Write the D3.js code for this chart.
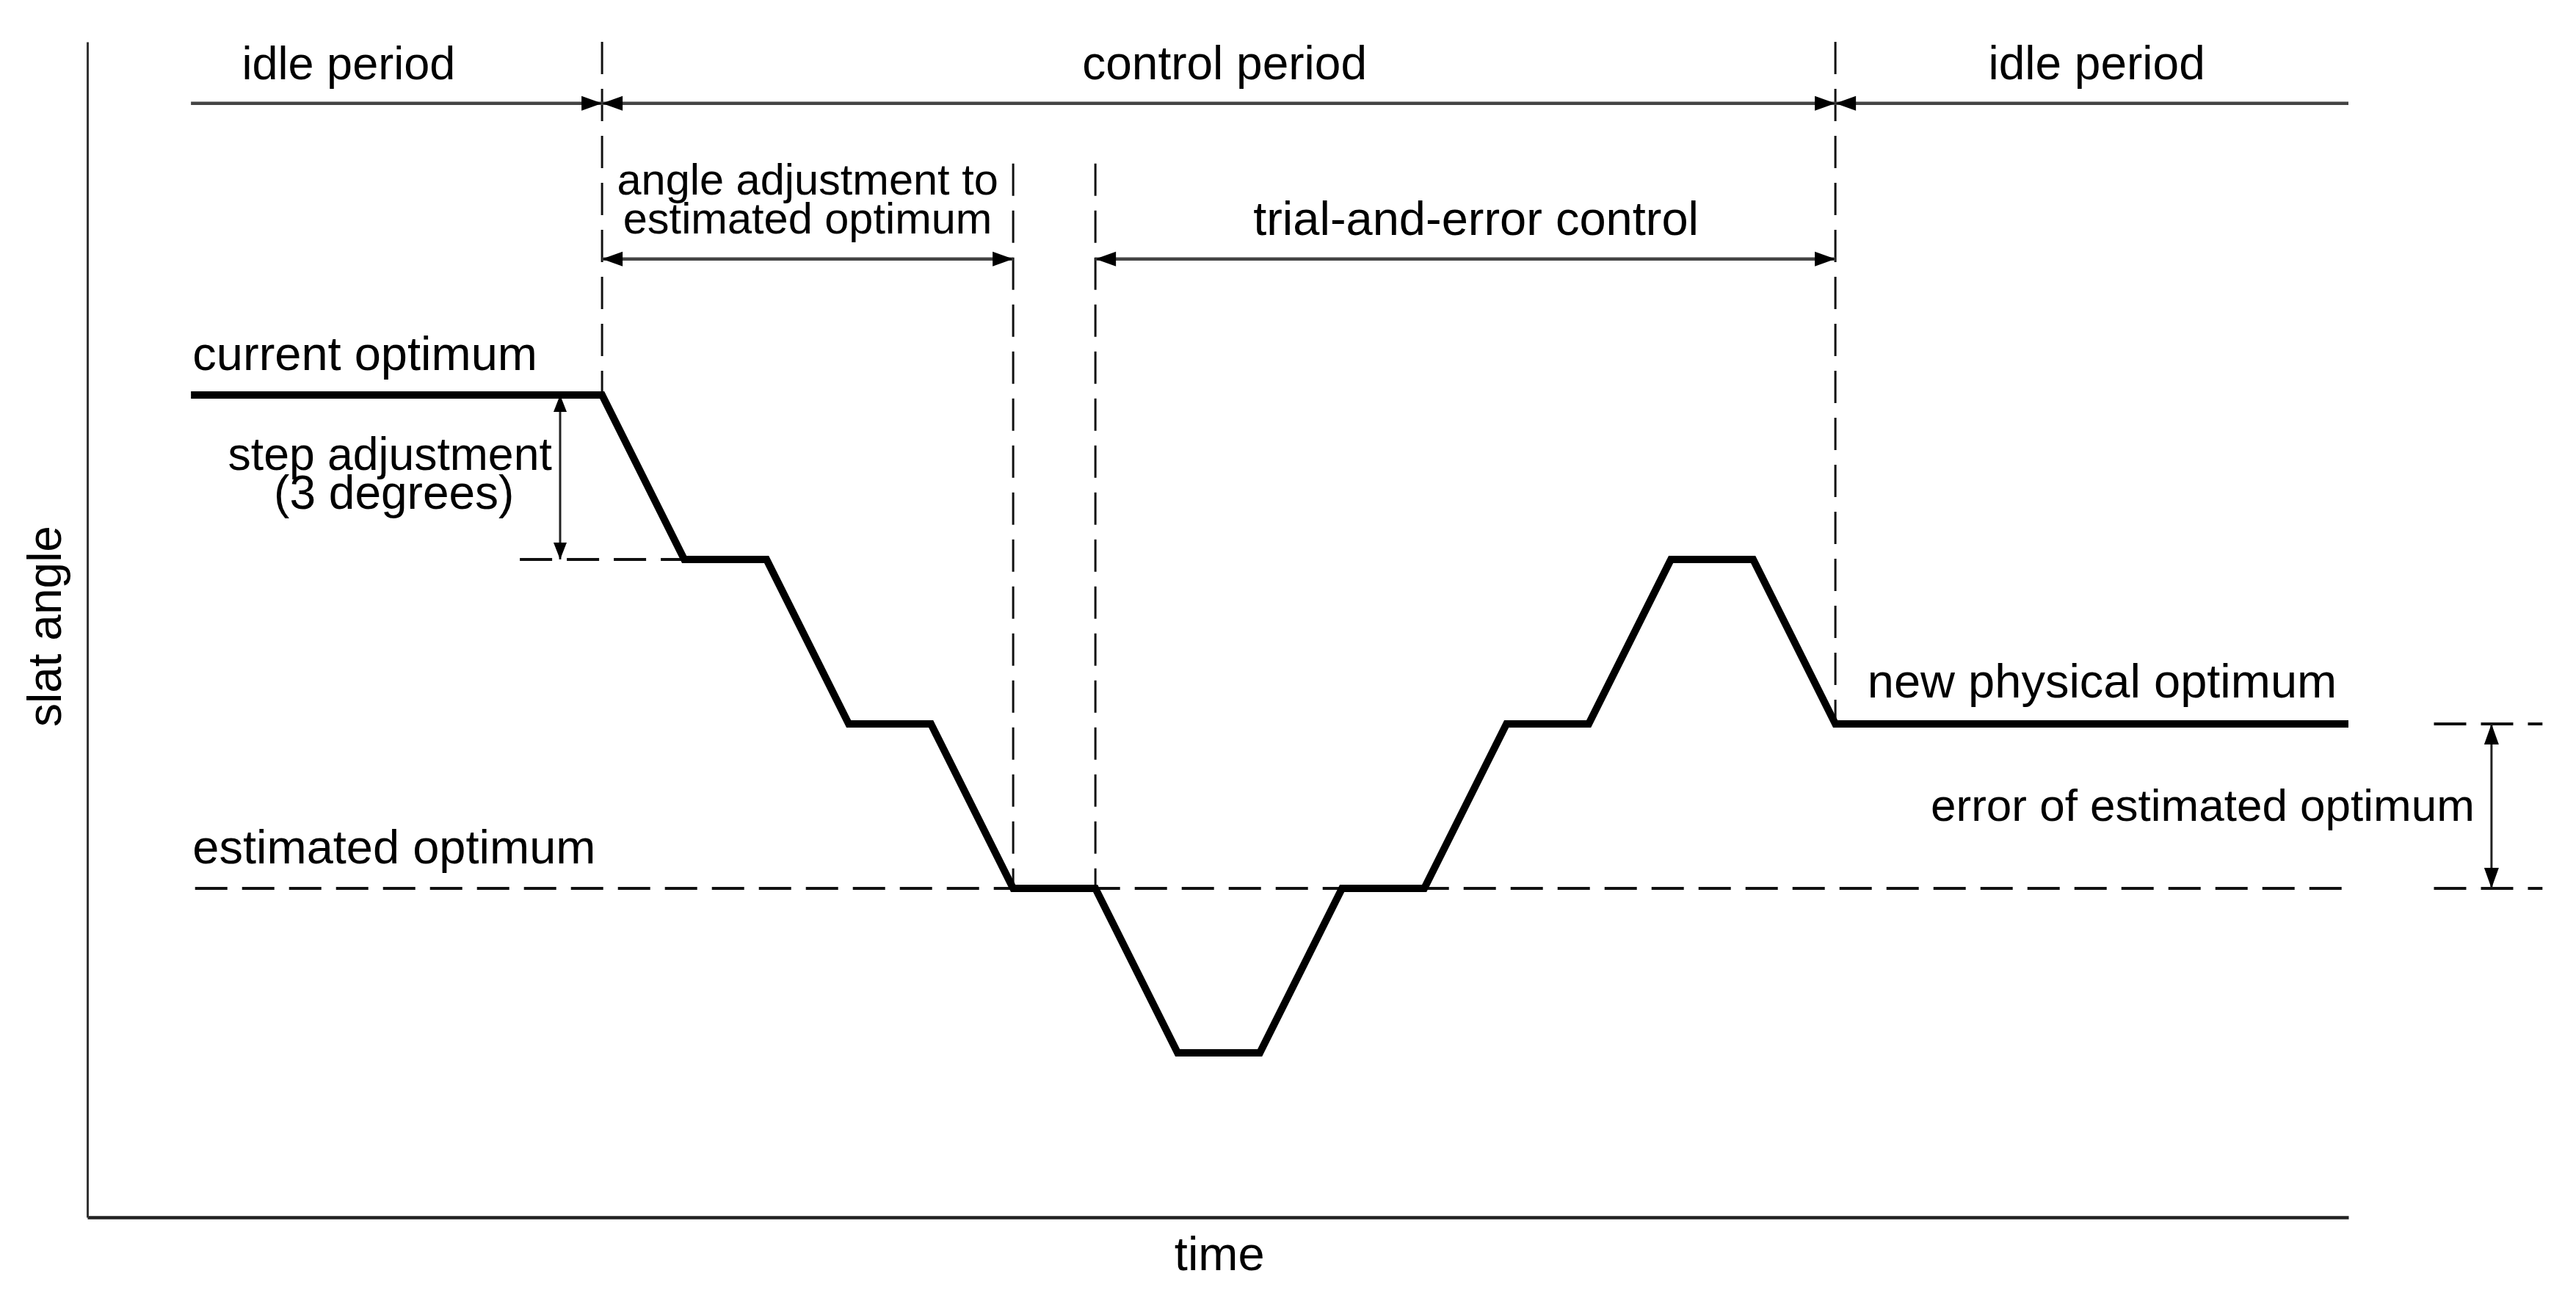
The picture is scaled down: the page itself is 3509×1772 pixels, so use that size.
<!DOCTYPE html>
<html>
<head>
<meta charset="utf-8">
<script src="https://cdn.jsdelivr.net/npm/d3@7"></script>
<style>
  html, body { margin: 0; padding: 0; background: #fff; }
  svg { display: block; }
  text { font-family: "Liberation Sans", Arial, Helvetica, sans-serif; fill: #000; }
</style>
</head>
<body>
<script>
// ---- data (time in control steps, slat angle in degrees relative to estimated optimum) ----
const timeSteps = [-5, 0, 1, 2, 3, 4, 5, 6, 7, 8, 9, 10, 11, 12, 13, 14, 15, 21.24];
const slatAngle = [9, 9, 6, 6, 3, 3, 0, 0, -3, -3, 0, 0, 3, 3, 6, 6, 3, 3];
const currentOptimum = 9;
const estimatedOptimum = 0;
const newOptimum = 3;
const stepSize = 3;
const periodBounds = [-5, 0, 15, 21.24];          // idle | control | idle
const phaseBounds = [[0, 5], [6, 15]];            // adjustment, trial-and-error
const periodNames = ["idle period", "control period", "idle period"];
const axisTitles = { x: "time", y: "slat angle" };

const W = 3509, H = 1772;
const x = d3.scaleLinear().domain([-6.26, 21.24]).range([119, 3199]);
const y = d3.scaleLinear().domain([-6, 15.44]).range([1658, 57]);

const svg = d3.select("body").append("svg").attr("width", W).attr("height", H);

const INK = "#111";
const dash = "44,20";

// ---- axes ----
const gx = svg.append("g").attr("transform", `translate(0,${y(-6)})`)
  .call(d3.axisBottom(x).tickValues([]).tickSizeOuter(0));
gx.select(".domain").attr("stroke", "#222").attr("stroke-width", 4.5);
const gy = svg.append("g").attr("transform", `translate(${x(-6.26)},0)`)
  .call(d3.axisLeft(y).tickValues([]).tickSizeOuter(0));
gy.select(".domain").attr("stroke", "#333").attr("stroke-width", 3);

// ---- helpers ----
function seg(x1, y1, x2, y2, opts = {}) {
  return svg.append("line")
    .attr("x1", x1).attr("y1", y1).attr("x2", x2).attr("y2", y2)
    .attr("stroke", opts.color || INK)
    .attr("stroke-width", opts.width || 3.5)
    .attr("stroke-dasharray", opts.dash || null);
}
function head(tx, ty, dx, dy, len = 28, hw = 10) {
  const bx = tx - dx * len, by = ty - dy * len;
  const px = -dy, py = dx;
  svg.append("path")
    .attr("d", `M${tx},${ty}L${bx + px * hw},${by + py * hw}L${bx - px * hw},${by - py * hw}Z`)
    .attr("fill", "#000");
}
function hArrow(t1, t2, yy, startHead, endHead) {
  const a = x(t1), b = x(t2);
  seg(a, yy, b, yy, { color: "#444", width: 4.5 });
  if (startHead) head(a, yy, -1, 0);
  if (endHead) head(b, yy, 1, 0);
}
function vArrow(t, d1, d2, len, hw) {
  const xx = x(t), a = y(d1), b = y(d2);
  seg(xx, a, xx, b, { color: "#222", width: 3 });
  head(xx, a, 0, -1, len, hw);
  head(xx, b, 0, 1, len, hw);
}

// ---- dashed guide lines ----
// period / phase boundaries
seg(x(periodBounds[1]), y.range()[1], x(periodBounds[1]), y(currentOptimum), { dash, width: 3 });
seg(x(periodBounds[2]), y.range()[1], x(periodBounds[2]), y(newOptimum), { dash, width: 3 });
phaseBounds.forEach((p, i) => {
  const t = i === 0 ? p[1] : p[0];
  seg(x(t), y(13.22), x(t), y(estimatedOptimum), { dash, width: 3 });
});
// estimated optimum
seg(x(-4.95), y(estimatedOptimum), x(21.24), y(estimatedOptimum), { dash, width: 4 });
// step adjustment guide
seg(x(-1), y(currentOptimum - stepSize), x(1), y(currentOptimum - stepSize), { dash, width: 4 });
// error guides at right
seg(x(22.28), y(newOptimum), x(23.6), y(newOptimum), { dash, width: 4 });
seg(x(22.28), y(estimatedOptimum), x(23.6), y(estimatedOptimum), { dash, width: 4 });

// ---- period arrows ----
const rowTop = y(14.32), rowMid = y(11.48);
hArrow(periodBounds[0], periodBounds[1], rowTop, false, true);
hArrow(periodBounds[1], periodBounds[2], rowTop, true, true);
hArrow(periodBounds[2], periodBounds[3], rowTop, true, false);
hArrow(phaseBounds[0][0], phaseBounds[0][1], rowMid, true, true);
hArrow(phaseBounds[1][0], phaseBounds[1][1], rowMid, true, true);

// ---- dimension arrows ----
vArrow(-0.51, currentOptimum, currentOptimum - stepSize, 23, 9);
vArrow(22.98, newOptimum, estimatedOptimum, 28, 10);

// ---- slat angle profile ----
const pts = timeSteps.map((t, i) => [t, slatAngle[i]]);
svg.append("path")
  .attr("d", d3.line().x(d => x(d[0])).y(d => y(d[1]))(pts))
  .attr("fill", "none").attr("stroke", "#000")
  .attr("stroke-width", 10).attr("stroke-linejoin", "miter");

// ---- labels (anchors in time / degree units) ----
const labels = [
  { t: -4.38, d: 14.76, s: 63, a: "start", txt: periodNames[0] },
  { t: 5.84, d: 14.76, s: 64, a: "start", txt: periodNames[1] },
  { t: 16.86, d: 14.76, s: 64, a: "start", txt: periodNames[2] },
  { t: 2.5, d: 12.66, s: 59.5, a: "middle", txt: "angle adjustment to" },
  { t: 2.5, d: 11.95, s: 59.5, a: "middle", txt: "estimated optimum" },
  { t: 7.92, d: 11.92, s: 65, a: "start", txt: "trial-and-error control" },
  { t: -4.98, d: 9.45, s: 65, a: "start", txt: "current optimum" },
  { t: -2.58, d: 7.63, s: 62.5, a: "middle", txt: "step adjustment" },
  { t: -2.53, d: 6.92, s: 64, a: "middle", txt: "(3 degrees)" },
  { t: -4.98, d: 0.455, s: 65, a: "start", txt: "estimated optimum" },
  { t: 15.39, d: 3.48, s: 65, a: "start", txt: "new physical optimum" },
  { t: 16.16, d: 1.23, s: 62, a: "start", txt: "error of estimated optimum" },
  { t: 7.51, d: -6.96, s: 65, a: "middle", txt: axisTitles.x }
];
svg.selectAll("text.lbl").data(labels).enter().append("text")
  .attr("class", "lbl")
  .attr("x", d => x(d.t)).attr("y", d => y(d.d))
  .attr("text-anchor", d => d.a)
  .attr("font-size", d => d.s)
  .text(d => d.txt);

svg.append("text")
  .attr("transform", `translate(${x(-6.58)},${y(4.78)}) rotate(-90)`)
  .attr("text-anchor", "middle")
  .attr("font-size", 64)
  .text(axisTitles.y);
</script>
</body>
</html>
